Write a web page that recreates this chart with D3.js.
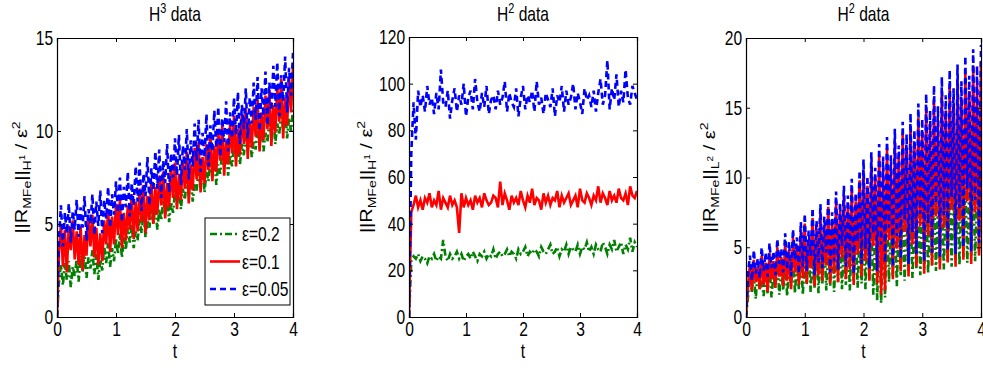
<!DOCTYPE html>
<html>
<head>
<meta charset="utf-8">
<script src="https://cdn.jsdelivr.net/npm/d3@7"></script>
<style>
  body { margin: 0; background: #fff; }
  svg { display: block; }
  text { font-family: 'Liberation Sans', Arial, sans-serif; fill: #000; }
</style>
</head>
<body>
<svg width="983" height="373"></svg>
<script>
// time runs 0..4 for every series, samples equally spaced
const tMax = 4;
const xTicks = [0, 1, 2, 3, 4];
const legendLabels = ['ε=0.2', 'ε=0.1', 'ε=0.05'];

// panel 1: H^3 data
const h3Eps02 = [0, 1.9, 2.8, 1.7, 2.9, 2.0, 3.0, 1.6, 2.7, 2.2, 3.1,
  1.9, 3.3, 2.4, 3.5, 2.1, 3.2, 2.6, 3.6, 2.3, 3.4,
  2.0, 3.1, 2.5, 3.8, 2.9, 4.0, 2.7, 3.7, 3.0, 4.2,
  3.4, 4.5, 3.2, 4.3, 3.6, 4.8, 4.0, 5.0, 3.7, 4.6,
  4.1, 5.3, 4.5, 5.6, 4.3, 5.2, 4.8, 5.9, 5.0, 6.0,
  4.7, 5.8, 5.2, 6.3, 5.5, 6.6, 5.1, 6.2, 5.6, 6.8,
  6.0, 7.1, 5.8, 6.9, 6.3, 7.4, 6.6, 7.6, 6.2, 7.2,
  6.8, 7.9, 7.0, 8.1, 6.7, 7.8, 7.3, 8.4, 7.5, 8.6,
  7.1, 8.2, 7.7, 8.9, 8.0, 9.1, 7.6, 8.7, 8.1, 9.3,
  8.5, 9.6, 8.2, 9.3, 8.7, 9.8, 9.0, 10.0, 8.6, 9.5,
  9.0, 10.2, 9.3, 10.4, 8.9, 9.9, 9.4, 10.6, 9.7, 10.8,
  9.3, 10.4, 9.8, 11.0, 10.1, 11.3, 9.6, 10.7, 10.0, 11.2];
const h3Eps01 = [0, 3.4, 5.0, 2.7, 4.7, 2.4, 4.9, 3.6, 5.2, 3.1, 4.6,
  2.8, 4.9, 2.5, 4.4, 3.3, 5.3, 3.8, 5.5, 3.2, 4.8,
  2.8, 4.5, 3.0, 5.2, 3.9, 5.8, 3.5, 5.4, 3.9, 6.1,
  4.4, 6.3, 3.7, 5.6, 4.1, 6.0, 4.7, 6.6, 4.2, 6.2,
  4.6, 6.9, 5.1, 7.1, 4.5, 6.5, 5.2, 7.3, 5.0, 7.0,
  5.5, 7.6, 6.0, 7.8, 5.3, 7.2, 5.9, 8.1, 6.4, 8.3,
  5.8, 7.7, 6.3, 8.4, 6.9, 8.9, 6.1, 8.2, 6.8, 9.1,
  7.4, 9.4, 6.7, 8.6, 7.2, 9.3, 7.9, 9.8, 7.3, 9.2,
  7.8, 10.0, 8.4, 10.3, 7.6, 9.5, 8.2, 10.4, 8.8, 10.8,
  8.1, 10.1, 8.7, 10.9, 9.3, 11.2, 8.5, 10.5, 9.1, 11.3,
  9.7, 11.7, 8.9, 11.0, 9.5, 11.9, 10.1, 12.2, 9.2, 11.4,
  9.9, 12.4, 10.5, 12.8, 9.6, 11.8, 10.3, 12.9, 11.0, 13.4];
const h3Eps005 = [0, 4.2, 6.0, 3.8, 5.6, 4.5, 6.1, 4.0, 5.7, 4.7, 6.3,
  4.3, 5.9, 4.8, 6.5, 4.1, 5.8, 5.0, 6.6, 4.4, 6.2,
  4.9, 6.8, 4.5, 6.3, 5.3, 7.0, 4.8, 6.6, 5.5, 7.3,
  5.6, 7.5, 5.1, 7.0, 5.9, 7.8, 5.4, 7.2, 6.0, 8.1,
  6.2, 8.3, 5.7, 7.7, 6.5, 8.6, 6.0, 8.0, 6.8, 8.9,
  6.9, 9.0, 6.4, 8.4, 7.2, 9.3, 6.7, 8.8, 7.5, 9.6,
  7.6, 9.8, 7.1, 9.2, 7.9, 10.1, 7.4, 9.5, 8.1, 10.4,
  8.4, 10.6, 7.8, 9.9, 8.6, 10.9, 8.1, 10.3, 8.9, 11.1,
  9.1, 11.3, 8.6, 10.7, 9.4, 11.6, 8.9, 11.0, 9.6, 11.8,
  9.8, 12.1, 9.3, 11.4, 10.1, 12.3, 9.6, 11.8, 10.4, 12.6,
  10.6, 12.9, 10.0, 12.3, 10.8, 13.2, 10.3, 12.6, 11.1, 13.5,
  11.3, 13.7, 10.8, 13.0, 11.6, 14.0, 11.0, 13.4, 11.9, 14.2];

// panel 2: H^2 data, H^1 norm
const h2Eps02 = [0, 24, 26, 25, 27, 24, 26, 25, 23, 26,
  25, 27, 24, 26, 25, 33, 26, 24, 27, 25,
  26, 28, 25, 27, 24, 26, 27, 25, 28, 26,
  24, 27, 26, 28, 25, 27, 26, 29, 25, 27,
  28, 26, 27, 29, 26, 28, 27, 25, 29, 27,
  28, 30, 26, 28, 27, 29, 28, 26, 30, 28,
  27, 29, 31, 27, 28, 30, 26, 29, 28, 31,
  27, 30, 29, 28, 31, 27, 30, 29, 32, 28,
  30, 27, 31, 29, 28, 32, 30, 27, 31, 29,
  33, 28, 30, 32, 27, 31, 29, 34, 28, 32, 30];
const h2Eps01 = [0, 45, 48, 52, 47, 50, 46, 51, 49, 53,
  47, 50, 48, 54, 46, 51, 49, 47, 52, 48,
  50, 47, 36, 53, 47, 51, 48, 50, 46, 52,
  49, 51, 47, 53, 50, 48, 49, 52, 51, 47,
  58, 48, 53, 50, 46, 52, 49, 51, 48, 54,
  50, 47, 52, 49, 55, 48, 51, 50, 46, 53,
  49, 52, 48, 51, 50, 54, 47, 52, 49, 51,
  53, 48, 50, 52, 47, 55, 50, 49, 53, 51,
  48, 52, 50, 56, 49, 53, 51, 48, 54, 50,
  52, 49, 55, 51, 50, 53, 48, 56, 52, 51, 54];
const h2Eps005 = [0, 70, 92, 76, 97, 90, 95, 88, 99, 91,
  94, 87, 96, 89, 106, 92, 90, 97, 85, 93,
  98, 88, 95, 91, 100, 86, 94, 97, 89, 102,
  92, 88, 96, 90, 99, 87, 93, 95, 89, 97,
  91, 94, 101, 88, 96, 92, 90, 98, 86, 94,
  99, 89, 95, 92, 97, 88, 101, 91, 94, 87,
  96, 93, 90, 98, 86, 95, 92, 99, 88, 97,
  91, 94, 100, 89, 96, 92, 87, 98, 93, 95,
  90, 97, 88, 96, 102, 91, 95, 110, 89, 98,
  93, 104, 90, 97, 92, 106, 94, 91, 99, 96, 93];

// panel 3: H^2 data, L^2 norm
const l2Eps02 = [0, 1.4, 3.2, 1.8, 2.9, 1.3, 3.5, 2.0, 2.7, 1.5, 3.3,
  1.7, 3.8, 1.4, 3.0, 2.1, 4.0, 1.6, 3.4, 1.9, 4.2,
  1.5, 3.6, 2.2, 4.5, 1.7, 3.9, 2.0, 4.8, 1.6, 4.1,
  2.3, 5.0, 1.8, 4.4, 2.1, 5.3, 1.7, 4.6, 2.4, 5.5,
  1.9, 4.9, 2.2, 5.8, 1.8, 5.1, 2.5, 6.0, 2.0, 5.4,
  2.3, 6.3, 1.9, 5.6, 2.6, 6.5, 2.1, 5.9, 2.4, 6.8,
  2.0, 6.1, 2.7, 7.0, 1.6, 6.3, 1.2, 7.2, 1.0, 6.5,
  1.4, 7.4, 2.5, 6.8, 2.9, 7.7, 2.2, 7.0, 3.0, 7.9,
  2.6, 7.3, 3.2, 8.1, 2.8, 7.5, 3.4, 8.4, 3.0, 7.8,
  3.5, 8.6, 3.1, 8.0, 3.7, 8.9, 3.3, 8.2, 3.8, 9.1,
  3.4, 8.5, 4.0, 9.3, 3.6, 8.7, 4.1, 9.6, 3.7, 9.0,
  4.3, 9.8, 3.9, 9.2, 4.4, 10.1, 4.0, 9.4, 4.6, 10.3];
const l2Eps01 = [0, 2.2, 3.8, 1.9, 4.1, 2.5, 3.6, 2.0, 4.4, 2.3, 3.9,
  1.8, 4.6, 2.7, 4.0, 2.1, 5.0, 2.9, 4.3, 2.2, 5.3,
  2.6, 4.8, 2.0, 5.7, 3.2, 5.1, 2.3, 6.2, 2.8, 6.7,
  2.4, 5.6, 3.5, 7.1, 2.2, 6.3, 3.0, 7.5, 2.6, 6.6,
  3.7, 7.9, 2.4, 6.9, 3.1, 8.3, 2.5, 7.6, 4.2, 8.7,
  2.7, 8.0, 3.4, 9.2, 2.3, 8.3, 4.5, 9.8, 2.9, 10.5,
  4.0, 9.4, 2.6, 11.0, 5.1, 9.9, 2.4, 11.6, 1.6, 10.7,
  1.9, 12.1, 5.5, 10.8, 2.7, 12.6, 4.9, 11.5, 3.3, 13.1,
  6.1, 12.2, 2.9, 13.7, 5.2, 12.5, 3.6, 14.3, 6.5, 13.3,
  3.1, 15.0, 5.8, 13.8, 3.7, 15.5, 7.2, 14.1, 3.4, 16.1,
  6.4, 14.8, 3.9, 16.5, 7.7, 15.3, 3.6, 17.0, 6.9, 15.7,
  4.1, 17.5, 8.3, 16.2, 3.8, 18.0, 7.5, 16.8, 4.4, 18.3];
const l2Eps005 = [0, 3.0, 4.4, 2.6, 4.8, 3.1, 4.2, 2.8, 5.0, 3.3, 4.6,
  2.9, 5.3, 3.5, 4.7, 3.0, 5.6, 3.8, 4.9, 3.2, 6.0,
  3.4, 5.4, 2.9, 6.3, 4.1, 5.7, 3.1, 6.8, 3.6, 7.4,
  3.3, 6.2, 4.4, 7.8, 3.0, 6.9, 3.9, 8.1, 3.5, 7.2,
  4.6, 8.6, 3.2, 7.5, 4.0, 9.0, 3.4, 8.2, 5.1, 9.4,
  3.6, 8.7, 4.3, 9.9, 3.1, 8.9, 5.4, 10.5, 3.8, 11.3,
  4.9, 10.1, 3.5, 11.8, 6.0, 10.7, 3.3, 12.4, 5.2, 11.5,
  3.9, 12.9, 6.4, 11.6, 3.6, 13.5, 5.8, 12.3, 4.2, 14.0,
  7.0, 13.1, 3.8, 14.6, 6.1, 13.4, 4.5, 15.3, 7.4, 14.2,
  4.0, 16.0, 6.7, 14.8, 4.6, 16.6, 8.1, 15.1, 4.3, 17.2,
  7.3, 15.9, 4.8, 17.7, 8.6, 16.4, 4.5, 18.1, 7.8, 16.9,
  5.0, 18.7, 9.2, 17.3, 4.7, 19.2, 8.4, 18.0, 5.3, 19.5];

const seriesStyle = [
  { color: '#008000', dash: '7,3,2,3' },
  { color: '#ff0000', dash: null },
  { color: '#0000ff', dash: '6,4' }
];

const panels = [
  { title: '3', normSub: 'H', normSup: '1', yMax: 15, yTicks: [0, 5, 10, 15],
    series: [h3Eps02, h3Eps01, h3Eps005], left: 57, right: 293, top: 38, bottom: 317, labelX: 21, legend: true },
  { title: '2', normSub: 'H', normSup: '1', yMax: 120, yTicks: [0, 20, 40, 60, 80, 100, 120],
    series: [h2Eps02, h2Eps01, h2Eps005], left: 409, right: 637, top: 37, bottom: 317, labelX: 366, legend: false },
  { title: '2', normSub: 'L', normSup: '2', yMax: 20, yTicks: [0, 5, 10, 15, 20],
    series: [l2Eps02, l2Eps01, l2Eps005], left: 746, right: 981, top: 38, bottom: 317, labelX: 709, legend: false }
];

const svg = d3.select('svg');
const fs = 20;
const sx = 0.78; // figure is squeezed sideways

panels.forEach((p, pi) => {
  const x = d3.scaleLinear().domain([0, tMax]).range([p.left, p.right]);
  const y = d3.scaleLinear().domain([0, p.yMax]).range([p.bottom, p.top]);
  const g = svg.append('g');

  g.append('clipPath').attr('id', `clip-${pi}`)
    .append('rect')
    .attr('x', p.left).attr('y', p.top)
    .attr('width', p.right - p.left).attr('height', p.bottom - p.top);

  const lines = g.append('g').attr('clip-path', `url(#clip-${pi})`);
  p.series.forEach((vals, si) => {
    const n = vals.length;
    const line = d3.line()
      .x((d, i) => x(i * tMax / (n - 1)))
      .y(d => y(d));
    lines.append('path')
      .datum(vals)
      .attr('d', line)
      .attr('fill', 'none')
      .attr('stroke', seriesStyle[si].color)
      .attr('stroke-width', 2.6)
      .attr('stroke-dasharray', seriesStyle[si].dash);
  });

  // box with inward ticks on all sides
  const tl = 4;
  const xb = g.append('g').attr('transform', `translate(0,${p.bottom})`)
    .call(d3.axisBottom(x).tickValues(xTicks).tickSize(-tl).tickPadding(5).tickFormat(d3.format('d')));
  g.append('g').attr('transform', `translate(0,${p.top})`)
    .call(d3.axisTop(x).tickValues(xTicks).tickSize(-tl).tickFormat(''));
  const yb = g.append('g').attr('transform', `translate(${p.left},0)`)
    .call(d3.axisLeft(y).tickValues(p.yTicks).tickSize(-tl).tickPadding(5).tickFormat(d3.format('d')));
  g.append('g').attr('transform', `translate(${p.right},0)`)
    .call(d3.axisRight(y).tickValues(p.yTicks).tickSize(-tl).tickFormat(''));
  g.selectAll('.domain').attr('stroke', '#000').attr('stroke-width', 1.2);
  g.selectAll('.tick line').attr('stroke', '#000');
  g.selectAll('.tick text').attr('font-size', fs).attr('font-family', null).attr('fill', '#000');
  xb.selectAll('.tick text').attr('transform', `scale(${sx},1)`);
  yb.selectAll('.tick text').attr('transform', `scale(${sx},1)`);

  // title
  const cx = (p.left + p.right) / 2;
  const title = g.append('text')
    .attr('transform', `translate(${cx},21) scale(${sx},1)`)
    .attr('text-anchor', 'middle').attr('font-size', fs);
  title.append('tspan').text('H');
  title.append('tspan').attr('dy', -8).attr('font-size', 14).text(p.title);
  title.append('tspan').attr('dy', 8).text(' data');

  // x label
  g.append('text')
    .attr('transform', `translate(${cx},358) scale(${sx},1)`)
    .attr('text-anchor', 'middle').attr('font-size', fs).text('t');

  // y label (rotated, so the squeeze falls on glyph height)
  const cy = (p.top + p.bottom) / 2;
  const yl = g.append('text')
    .attr('transform', `translate(${p.labelX},${cy}) rotate(-90) scale(1,0.82)`)
    .attr('text-anchor', 'middle').attr('font-size', 20)
    .attr('dy', '0.35em');
  yl.append('tspan').text('||R');
  yl.append('tspan').attr('dy', 5).attr('font-size', 14).text('MFe');
  yl.append('tspan').attr('dy', -5).text('||');
  yl.append('tspan').attr('dy', 5).attr('font-size', 14).text(p.normSub);
  yl.append('tspan').attr('dy', -7).attr('font-size', 10).text(p.normSup);
  yl.append('tspan').attr('dy', 2).text(' / ε');
  yl.append('tspan').attr('dy', -8).attr('font-size', 14).text('2');

  if (p.legend) {
    const lg = g.append('g').attr('transform', 'translate(205,218)');
    lg.append('rect').attr('width', 85).attr('height', 87)
      .attr('fill', '#fff').attr('stroke', '#000').attr('stroke-width', 1);
    legendLabels.forEach((lab, li) => {
      const ly = 16 + li * 27.5;
      lg.append('line').attr('x1', 5).attr('x2', 35).attr('y1', ly).attr('y2', ly)
        .attr('stroke', seriesStyle[li].color).attr('stroke-width', 2.6)
        .attr('stroke-dasharray', seriesStyle[li].dash);
      lg.append('text')
        .attr('transform', `translate(37,${ly}) scale(${sx},1)`)
        .attr('dy', '0.35em').attr('font-size', fs).text(lab);
    });
  }
});
</script>
</body>
</html>
